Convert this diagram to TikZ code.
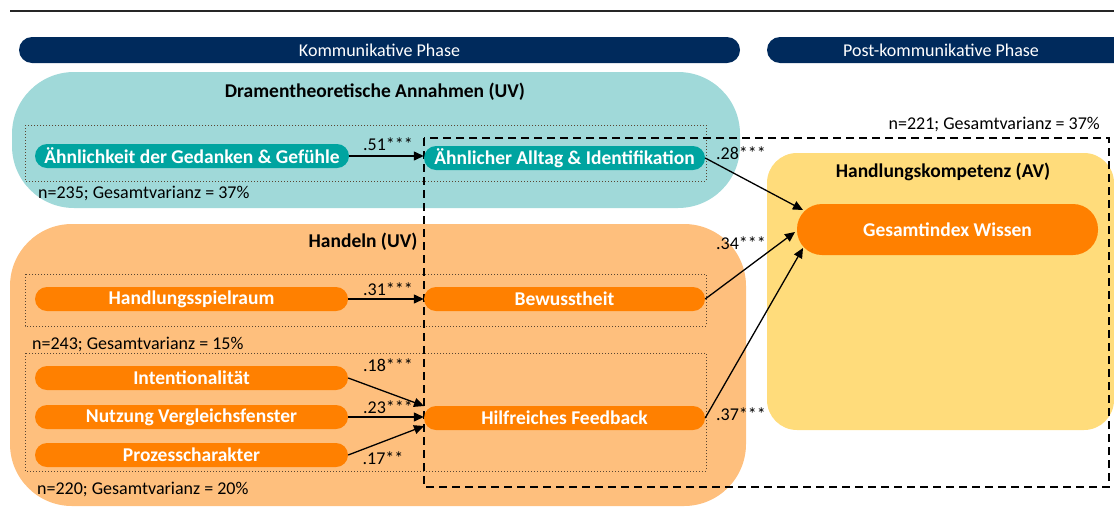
\documentclass[tikz,border=0pt]{standalone}
\usepackage{fontspec}
\setmainfont{Carlito}
\usetikzlibrary{arrows.meta}
\definecolor{navy}{RGB}{0,42,92}
\definecolor{tealbg}{RGB}{160,217,217}
\definecolor{tealnode}{RGB}{0,164,160}
\definecolor{orbg}{RGB}{254,191,125}
\definecolor{ornode}{RGB}{255,128,0}
\definecolor{yelbg}{RGB}{255,220,123}
\definecolor{dotcol}{RGB}{90,70,50}
\begin{document}
\begin{tikzpicture}[x=1pt,y=-1pt,
  pill/.style={rounded corners=12pt, minimum height=24pt, inner sep=0pt, text=white, font=\fontsize{19.5}{22}\selectfont\bfseries},
  tealpill/.style={pill, fill=tealnode},
  orpill/.style={pill, fill=ornode},
  coef/.style={font=\fontsize{18}{21}\selectfont, inner sep=0pt},
  note/.style={font=\fontsize{18}{21}\selectfont, inner sep=0pt},
  title/.style={font=\fontsize{19.5}{22}\selectfont\bfseries, inner sep=0pt},
  phase/.style={fill=navy, rounded corners=13pt, text=white, font=\fontsize{18}{21}\selectfont, inner sep=0pt, minimum height=26pt},
  arr/.style={-{Triangle[length=10pt,width=9pt]}, line width=1.3pt},
  dotbox/.style={draw=dotcol, line width=1pt, dotted},
  dashbox/.style={draw=black, line width=1.4pt, dash pattern=on 8pt off 5pt}
]
\useasboundingbox (0,0) rectangle (1114,520);
% top rule
\draw[line width=1.5pt, black!85] (10,11) -- (1114,11);
% phase bars
\node[phase, minimum width=721pt] (p1) at (379.5,50) {Kommunikative Phase};
\fill[navy, rounded corners=13pt] (767,37) rectangle (1128,63);
\node[text=white, font=\fontsize{18}{21}\selectfont, inner sep=0pt] (p2) at (941,50) {Post-kommunikative Phase};
% background regions
\fill[tealbg, rounded corners=62pt] (12,72) rectangle (740,208);
\fill[orbg, rounded corners=62pt] (10,224) rectangle (746,506);
\fill[yelbg, rounded corners=30pt] (767,153) rectangle (1114,430);
% titles
\node[title] (t1) at (375,92) {Dramentheoretische Annahmen (UV)};
\node[title] (t2) at (363,242) {Handeln (UV)};
\node[title] (t3) at (943,172) {Handlungskompetenz (AV)};
% dotted boxes
\draw[dotbox] (25,125) rectangle (706,181);
\draw[dotbox] (25,274) rectangle (706,326);
\draw[dotbox] (25,353) rectangle (706,471);
% dashed box
\draw[dashbox] (424,138) rectangle (1109,487);
% notes
\node[note, anchor=west] (n1) at (38,193) {n=235; Gesamtvarianz = 37\%};
\node[note, anchor=west] (n2) at (32,344) {n=243; Gesamtvarianz = 15\%};
\node[note, anchor=west] (n3) at (37,489) {n=220; Gesamtvarianz = 20\%};
\node[note, anchor=east] (n4) at (1100,124) {n=221; Gesamtvarianz = 37\%};
% nodes
\node[tealpill, minimum width=314pt] (a1) at (192,156) {Ähnlichkeit der Gedanken \& Gefühle};
\node[tealpill, minimum width=281pt] (a2) at (564.5,158) {Ähnlicher Alltag \& Identifikation};
\node[orpill, minimum width=313pt] (b1) at (191.5,299) {Handlungsspielraum};
\node[orpill, minimum width=281pt] (b2) at (564.5,299) {Bewusstheit};
\node[orpill, minimum width=313pt] (c1) at (191.5,378) {Intentionalität};
\node[orpill, minimum width=313pt] (c2) at (191.5,417) {Nutzung Vergleichsfenster};
\node[orpill, minimum width=313pt] (c3) at (191.5,455) {Prozesscharakter};
\node[orpill, minimum width=281pt] (c4) at (564.5,418) {Hilfreiches Feedback};
\node[pill, fill=ornode, rounded corners=25pt, minimum height=51pt, minimum width=301pt] (g) at (947.5,229.5) {Gesamtindex Wissen};
% arrow targets
\coordinate (e1) at (803,210);
\coordinate (e2) at (795,232);
\coordinate (e3) at (803,248);
\coordinate (f1) at (424,406);
\coordinate (f2) at (424,426);
% arrows
\draw[arr] (a1.east) -- (a1.east -| a2.west);
\draw[arr] (b1.east) -- (b2.west);
\draw[arr] (c1.east) -- (f1);
\draw[arr] (c2.east) -- (c2.east -| c4.west);
\draw[arr] (c3.east) -- (f2);
\draw[arr] (a2.east) -- (e1);
\draw[arr] (b2.east) -- (e2);
\draw[arr] (c4.east) -- (e3);
% coefficients
\node[coef] (k1) at (388,144) {.51***};
\node[coef] (k2) at (388,289) {.31***};
\node[coef] (k3) at (388,365) {.18***};
\node[coef] (k4) at (388,407) {.23***};
\node[coef] (k5) at (383,458) {.17**};
\node[coef] (k6) at (741,153) {.28***};
\node[coef] (k7) at (741,243) {.34***};
\node[coef] (k8) at (741,414) {.37***};
\end{tikzpicture}
\end{document}
